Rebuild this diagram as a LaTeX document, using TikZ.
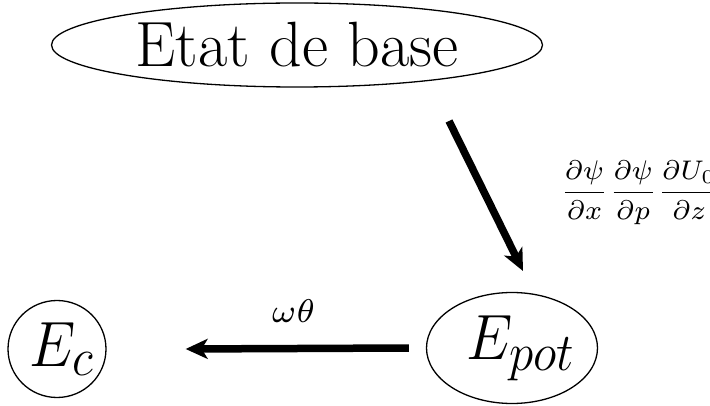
\documentclass[tikz,border=0pt]{standalone}
\usepackage{amsmath}
\usepackage{graphicx}
\usetikzlibrary{shapes.geometric,arrows.meta}
\tikzset{
  state/.style={ellipse,draw,line width=1.3pt,inner sep=0pt},
  flow/.style={line width=7.5pt,-{Stealth[length=22pt,width=20pt,inset=6pt]}},
  lbl/.style={inner sep=0pt}
}
\begin{document}
\begin{tikzpicture}[x=1pt,y=-1pt]
\useasboundingbox (0,0) rectangle (710,406);
\node[state,minimum width=491pt,minimum height=84pt] (base) at (297,45) {\makebox[0pt]{\scalebox{2.572}{\Huge Etat de base}}};
\node[state,minimum width=98pt,minimum height=97pt] (ec) at (57,349) {\makebox[0pt]{\hspace*{10pt}\scalebox{2.37}[2.572]{\Huge $E_c$}}};
\node[state,minimum width=171pt,minimum height=111pt] (epot) at (512,348) {\makebox[0pt]{\hspace*{18pt}\scalebox{2.37}[2.572]{\Huge $E_{pot}$}}};
\coordinate (d1) at (449,121);
\coordinate (d2) at (523,271);
\draw[flow] (d1) -- (d2);
\draw[flow] ([xshift=-17pt]epot.west) -- ([xshift=79pt]ec.east);
\node[lbl,anchor=base] (wt) at (293.5,323) {\scalebox{4.7}{\scriptsize $\omega\theta$}};
\node[lbl,anchor=west] (fr) at (560,193) {\scalebox{3.85}{\scriptsize $\dfrac{\partial\psi}{\partial x}\dfrac{\partial\psi}{\partial p}\dfrac{\partial U_0}{\partial z}$}};
\end{tikzpicture}
\end{document}
